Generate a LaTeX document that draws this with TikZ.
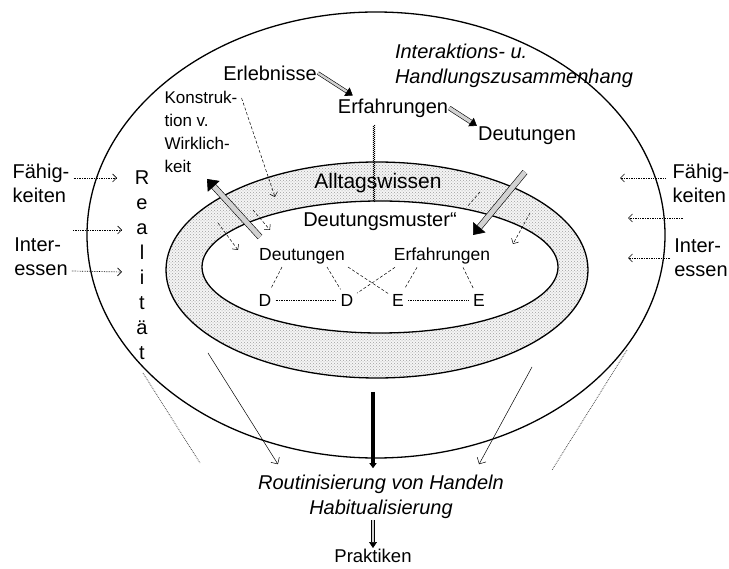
\documentclass[tikz,border=0pt]{standalone}
\usepackage{fontspec}
\setmainfont{Liberation Sans}
\usetikzlibrary{arrows.meta,calc,patterns,decorations.pathmorphing}

\begin{document}
\begin{tikzpicture}[x=1pt,y=-1pt,
  big/.style={font=\fontsize{20}{24}\selectfont,inner sep=1pt},
  mid/.style={font=\fontsize{17.5}{23}\selectfont,inner sep=1pt},
  bigit/.style={inner sep=1pt,font=\fontsize{20}{24.5}\selectfont\itshape},
  ring/.style={line width=1.3pt},
  hatch/.style={draw=black,line width=0.6pt,double=gray!35,double distance=2.4pt,-{Triangle[length=7pt,width=10pt]}},
  fat/.style={hatch,double distance=5pt,-{Triangle[length=10pt,width=16pt]}},
  dashar/.style={densely dashed,line width=0.5pt,-{Straight Barb[length=4pt]}},
  dotar/.style={densely dotted,line width=0.7pt,-{Straight Barb[length=4pt]}},
  link/.style={densely dashed,line width=0.5pt},
  pin/.style={line width=0.5pt,-{Straight Barb[length=5pt]}}]
  \useasboundingbox (0,0) rectangle (729,569);

  \fill[gray!8,even odd rule]
    (377,270) ellipse [x radius=211pt,y radius=108pt]
    (380,267) ellipse [x radius=178pt,y radius=66pt];
  \fill[pattern=crosshatch dots,pattern color=gray!75,even odd rule]
    (377,270) ellipse [x radius=211pt,y radius=108pt]
    (380,267) ellipse [x radius=178pt,y radius=66pt];
  \draw[ring] (377,270) ellipse [x radius=211pt,y radius=108pt];
  \draw[ring] (380,267) ellipse [x radius=178pt,y radius=66pt];
  \draw[ring] (376,235) ellipse [x radius=289pt,y radius=223pt];

  \node[big] (erleb) at (270,73) {Erlebnisse};
  \node[big] (erfahr) at (393,108) {Erfahrungen};
  \node[big] (deuttop) at (527,136) {Deutungen};
  \node[bigit,align=left] (inter) at (514,66) {Interaktions- u.\\Handlungszusammenhang};
  \node[inner sep=1pt,align=left,font=\fontsize{17}{23}\selectfont] (konst) at (201,132) {Konstruk-\\tion v.\\Wirklich-\\keit};
  \node[big,align=center,font=\fontsize{20}{25}\selectfont] (real) at (142,265) {R\\e\\a\\l\\i\\t\\ä\\t};
  \node[big,align=left] (fahL) at (41,183) {Fähig-\\keiten};
  \node[big,align=left] (intL) at (41,257) {Inter-\\essen};
  \node[big,align=left] (fahR) at (701,183) {Fähig-\\keiten};
  \node[big,align=left] (intR) at (701,258) {Inter-\\essen};
  \node[big,font=\fontsize{21}{24}\selectfont] (alltag) at (378,183) {Alltagswissen};
  \node[big] (muster) at (380,222) {Deutungsmuster“};
  \node[mid] (deutin) at (302,256) {Deutungen};
  \node[mid] (erfin) at (442,256) {Erfahrungen};
  \node[mid] (dA) at (265,300) {D};
  \node[mid] (dB) at (347,300) {D};
  \node[mid] (eA) at (398,300) {E};
  \node[mid] (eB) at (479,300) {E};
  \node[bigit,align=center] (routin) at (381,497) {Routinisierung von Handeln\\Habitualisierung};
  \node[mid,font=\fontsize{18.5}{23}\selectfont] (prak) at (373,556) {Praktiken};

  \coordinate (kwA) at (260,237);
  \coordinate (kwB) at (207,179);
  \coordinate (dtA) at (525,172);
  \coordinate (dtB) at (473,235);
  \coordinate (zzA) at (374,125);
  \coordinate (zzB) at (374,202);
  \coordinate (kpE) at (275,197);
  \coordinate (bA1) at (218,223);
  \coordinate (bA2) at (238,250);
  \coordinate (bB1) at (253,210);
  \coordinate (bB2) at (270,230);
  \coordinate (bC1) at (480,192);
  \coordinate (bC2) at (467,207);
  \coordinate (bD1) at (530,213);
  \coordinate (bD2) at (513,244);
  \coordinate (lM1) at (73,230);
  \coordinate (lM2) at (122,230);
  \coordinate (rM1) at (683,218);
  \coordinate (rM2) at (628,218);
  \coordinate (oL1) at (143,373);
  \coordinate (oL2) at (200,463);
  \coordinate (oR1) at (627,350);
  \coordinate (oR2) at (552,470);
  \coordinate (sL) at (208,353);
  \coordinate (sR) at (532,367);
  \coordinate (vt) at (373,392);

  \draw[hatch] (erleb.east) -- ($(erfahr.north west)+(16,-2)$);
  \draw[hatch,double distance=3.5pt] (erfahr.east) -- (deuttop.north west);
  \draw[fat] (kwA) -- (kwB);
  \draw[fat] (dtA) -- (dtB);
  \draw[decorate,decoration={zigzag,amplitude=1pt,segment length=2pt},line width=0.4pt] (zzA) -- (zzB);
  \draw[dashar] ($(konst.north east)+(3,8)$) -- (kpE);
  \draw[dashar] (bA1) -- (bA2);
  \draw[dashar] (bB1) -- (bB2);
  \draw[link] (bC1) -- (bC2);
  \draw[dashar] (bD1) -- (bD2);

  \draw[dotar] ($(fahL.east)+(3,-5)$) -- (117,178);
  \draw[dotar] (lM1) -- (lM2);
  \draw[dotar] ($(intL.east)+(3,14)$) -- (122,272);
  \draw[dotar] ($(fahR.west)+(-6,-5)$) -- (620,178);
  \draw[dotar] (rM1) -- (rM2);
  \draw[dotar] ($(intR.west)+(-3,0)$) -- (628,258);

  \draw[link,shorten >=5pt] ($(deutin.south)+(-20,2)$) -- (dA);
  \draw[link,shorten >=4pt] ($(deutin.south)+(25,2)$) -- (dB);
  \draw[link,shorten >=3pt] ($(deutin.south)+(46,2)$) -- (eA);
  \draw[link,shorten >=3pt] ($(erfin.south)+(-47,2)$) -- (dB);
  \draw[link,shorten >=5pt] ($(erfin.south)+(-25,2)$) -- (eA);
  \draw[link,shorten >=5pt] ($(erfin.south)+(21,2)$) -- (eB);
  \draw[densely dotted,line width=0.7pt,shorten <=3pt,shorten >=3pt] (dA) -- (dB);
  \draw[densely dotted,line width=0.7pt,shorten <=3pt,shorten >=3pt] (eA) -- (eB);

  \draw[densely dotted,black!70,line width=0.8pt] (oL1) -- (oL2);
  \draw[densely dotted,black!70,line width=0.8pt] (oR1) -- (oR2);
  \draw[pin] (sL) -- ($(routin.north west)+(21,-10)$);
  \draw[pin] (sR) -- ($(routin.north east)+(-26,-10)$);
  \draw[line width=3.2pt,shorten >=6pt,-{Triangle[length=5pt,width=7pt]}] (vt) -- (vt |- routin.north);
  \draw[hatch,line width=0.7pt,double distance=2.2pt,-{Triangle[length=6pt,width=8pt]}] (routin.south -| prak) -- (prak.north);
\end{tikzpicture}
\end{document}
